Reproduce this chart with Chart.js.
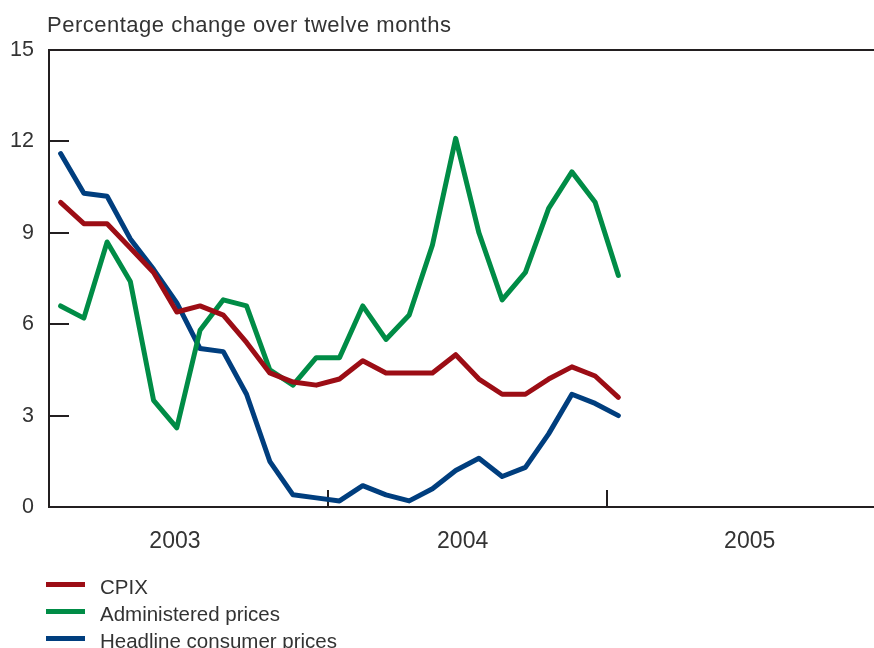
<!DOCTYPE html>
<html>
<head>
<meta charset="utf-8">
<script src="https://cdn.jsdelivr.net/npm/chart.js@4/dist/chart.umd.min.js"></script>
<style>
    html, body { margin: 0; padding: 0; background: #fff; }
    #wrap { position: relative; width: 874px; height: 648px; font-family: "Liberation Sans", Arial, sans-serif; color: #333; }
    #chart { position: absolute; left: 0; top: 0; }
    #title { position: absolute; left: 47px; top: 14px; font-size: 22px; line-height: 1; letter-spacing: 0.5px; white-space: nowrap; }
    #legend { position: absolute; left: 46px; top: 573px; font-size: 20.5px; }
    .item { position: relative; height: 27px; line-height: 27px; padding-left: 54px; white-space: nowrap; }
    .swatch { position: absolute; left: 0; top: 9px; width: 39px; height: 5px; }
</style>
</head>
<body>
<div id="wrap">
    <canvas id="chart" width="874" height="648"></canvas>
    <div id="title">Percentage change over twelve months</div>
    <div id="legend"></div>
</div>
<script>
// monthly observations, Jan 2003 - Jan 2005
var months = ["Jan 2003", "Feb 2003", "Mar 2003", "Apr 2003", "May 2003", "Jun 2003",
    "Jul 2003", "Aug 2003", "Sep 2003", "Oct 2003", "Nov 2003", "Dec 2003",
    "Jan 2004", "Feb 2004", "Mar 2004", "Apr 2004", "May 2004", "Jun 2004",
    "Jul 2004", "Aug 2004", "Sep 2004", "Oct 2004", "Nov 2004", "Dec 2004",
    "Jan 2005"];
var years = ["2003", "2004", "2005"];
var cpix = [10.0, 9.3, 9.3, 8.5, 7.7, 6.4, 6.6, 6.3, 5.4, 4.4, 4.1, 4.0,
    4.2, 4.8, 4.4, 4.4, 4.4, 5.0, 4.2, 3.7, 3.7, 4.2, 4.6, 4.3, 3.6];
var administered = [6.6, 6.2, 8.7, 7.4, 3.5, 2.6, 5.8, 6.8, 6.6, 4.5, 4.0, 4.9,
    4.9, 6.6, 5.5, 6.3, 8.6, 12.1, 9.0, 6.8, 7.7, 9.8, 11.0, 10.0, 7.6];
var headline = [11.6, 10.3, 10.2, 8.8, 7.8, 6.7, 5.2, 5.1, 3.7, 1.5, 0.4, 0.3,
    0.2, 0.7, 0.4, 0.2, 0.6, 1.2, 1.6, 1.0, 1.3, 2.4, 3.7, 3.4, 3.0];
var yTicks = [0, 3, 6, 9, 12, 15];

var axisColor = "#231f20";

function points(values) {
    var out = [];
    for (var i = 0; i < values.length; i++) {
        out.push({ x: i, y: values[i] });
    }
    return out;
}

function series(label, values, color) {
    return {
        label: label,
        data: points(values),
        borderColor: color,
        backgroundColor: color,
        borderWidth: 5,
        pointRadius: 0,
        borderCapStyle: "round",
        borderJoinStyle: "round",
        tension: 0
    };
}

// inward tick marks and the top frame line
var frame = {
    id: "frame",
    beforeDatasetsDraw: function (chart) {
        var ctx = chart.ctx, area = chart.chartArea;
        var xs = chart.scales.x, ys = chart.scales.y;
        ctx.save();
        ctx.strokeStyle = axisColor;
        ctx.lineWidth = 2;
        ctx.beginPath();
        ctx.moveTo(area.left - 1, area.top);
        ctx.lineTo(area.right, area.top);
        for (var i = 1; i < yTicks.length - 1; i++) {
            var py = Math.round(ys.getPixelForValue(yTicks[i]));
            ctx.moveTo(area.left, py);
            ctx.lineTo(area.left + 20, py);
        }
        for (var k = 1; k < years.length; k++) {
            var px = Math.round(xs.getPixelForValue(k * 12 - 0.5));
            ctx.moveTo(px, area.bottom);
            ctx.lineTo(px, area.bottom - 17);
        }
        ctx.stroke();
        ctx.restore();
    }
};

var yearLabelAt = [4.92, 17.3, 29.65];

var chart = new Chart(document.getElementById("chart"), {
    type: "line",
    data: {
        labels: months,
        datasets: [
            series("CPIX", cpix, "#9c0d15"),
            series("Administered prices", administered, "#008c46"),
            series("Headline consumer prices", headline, "#003e7e")
        ]
    },
    options: {
        responsive: false,
        animation: false,
        layout: { padding: { top: 50, right: 0, bottom: 0, left: 0 } },
        plugins: {
            legend: { display: false },
            tooltip: { enabled: false }
        },
        scales: {
            x: {
                type: "linear",
                min: -0.5,
                max: 35,
                grid: { display: false, drawTicks: false },
                border: { display: true, color: axisColor, width: 2 },
                afterBuildTicks: function (scale) {
                    scale.ticks = yearLabelAt.map(function (v) { return { value: v }; });
                },
                afterFit: function (scale) { scale.height = 141; },
                ticks: {
                    autoSkip: false,
                    maxRotation: 0,
                    padding: 21,
                    color: "#333",
                    font: { family: "Liberation Sans", size: 23 },
                    callback: function (value) {
                        return years[Math.floor((value + 0.5) / 12)];
                    }
                }
            },
            y: {
                min: 0,
                max: 15,
                grid: { display: false, drawTicks: false },
                border: { display: true, color: axisColor, width: 2 },
                afterBuildTicks: function (scale) {
                    scale.ticks = yTicks.map(function (v) { return { value: v }; });
                },
                afterFit: function (scale) { scale.width = 49; },
                ticks: {
                    padding: 15,
                    color: "#333",
                    font: { family: "Liberation Sans", size: 21.5 }
                }
            }
        }
    },
    plugins: [frame]
});

// legend below the chart
var legend = document.getElementById("legend");
chart.data.datasets.forEach(function (ds) {
    var row = document.createElement("DIV");
    row.className = "item";
    var sw = document.createElement("SPAN");
    sw.className = "swatch";
    sw.style.background = ds.borderColor;
    row.appendChild(sw);
    row.appendChild(document.createTextNode(ds.label));
    legend.appendChild(row);
});
</script>
</body>
</html>
